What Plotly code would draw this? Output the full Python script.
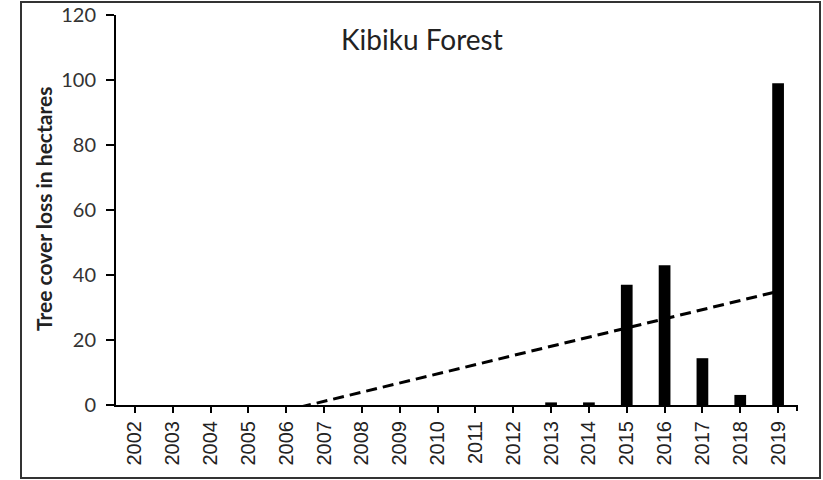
import numpy as np
import plotly.graph_objects as go

years = [str(y) for y in range(2002, 2020)]
loss_ha = [0, 0, 0, 0, 0, 0, 0, 0, 0, 0, 0, 0.8, 0.8, 37, 43, 14.4, 3.1, 99]
y_ticks = [0, 20, 40, 60, 80, 100, 120]
title_text = "Kibiku Forest"
y_title = "Tree cover loss in hectares"

# Linear trendline (least squares), as in a spreadsheet trendline
idx = np.arange(len(years))
slope, intercept = np.polyfit(idx, np.array(loss_ha), 1)
trend = list(slope * idx + intercept)

W, H = 823, 480
L, R, T, B = 116, 797, 15, 405
pw, ph = R - L, B - T

def px(xp):
    return (xp - L) / pw

def py(yp):
    return (B - yp) / ph

fig = go.Figure()
fig.add_trace(go.Bar(x=years, y=loss_ha, marker=dict(color="black", line=dict(width=0)),
                     width=0.31, showlegend=False))
fig.add_trace(go.Scatter(x=years, y=trend, mode="lines",
                         line=dict(color="black", width=3, dash="11px,6px"),
                         showlegend=False, hoverinfo="skip"))

fig.update_layout(
    width=W, height=H,
    margin=dict(l=L, r=W - R, t=T, b=H - B, autoexpand=False),
    paper_bgcolor="white", plot_bgcolor="white",
    bargap=0.69,
    xaxis=dict(type="category", range=[-0.5, len(years) - 0.5], automargin=False,
               showline=True, linecolor="black", linewidth=2,
               ticks="outside", ticklen=6, tickwidth=2, tickcolor="black",
               tickangle=-90, showgrid=False, zeroline=False,
               tickfont=dict(family="Liberation Sans", size=20, color="#222")),
    yaxis=dict(range=[0, 120], tickvals=y_ticks, automargin=False,
               showline=True, linecolor="black", linewidth=2,
               ticks="outside", ticklen=8, tickwidth=2, tickcolor="black",
               showgrid=False, zeroline=False, ticklabelstandoff=6,
               ticklabeloverflow="allow",
               tickfont=dict(family="Lato", size=20, color="#333")),
    annotations=[
        dict(text=title_text, x=px(422), y=py(39), xref="paper", yref="paper",
             xanchor="center", yanchor="middle", showarrow=False,
             font=dict(family="Lato", size=28, color="#222")),
        dict(text="<b>" + y_title + "</b>", x=px(43), y=py(209), xref="paper", yref="paper",
             xanchor="center", yanchor="middle", textangle=-90, showarrow=False,
             font=dict(family="Lato", size=21, color="#222")),
    ],
    shapes=[
        dict(type="rect", xref="paper", yref="paper",
             x0=px(21), x1=px(820), y0=py(478), y1=py(2),
             line=dict(color="#333", width=2)),
        dict(type="line", xref="paper", yref="paper",
             x0=1, x1=1, y0=0, y1=py(411),
             line=dict(color="black", width=2)),
    ],
)

fig.write_html("out.html", config={"displayModeBar": False},
               post_script="document.body.style.margin='0';document.body.style.overflow='hidden';")
